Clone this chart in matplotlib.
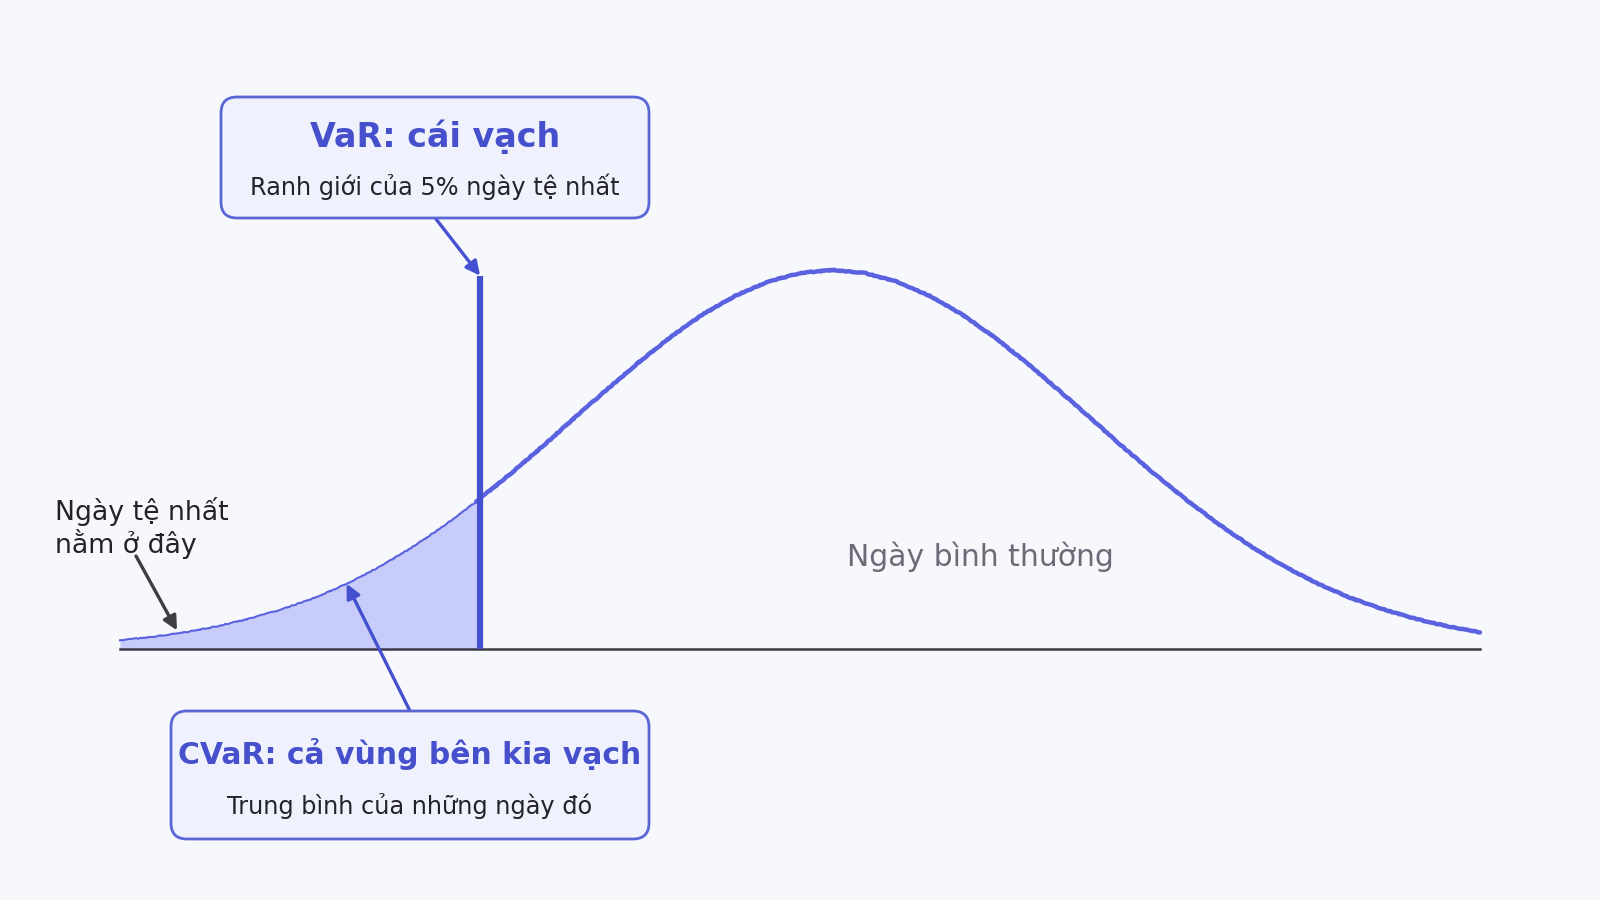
import matplotlib
matplotlib.use("Agg")
import matplotlib.pyplot as plt
from matplotlib.patches import FancyBboxPatch

# curve: x in std units, y relative to peak height
xs = [-2.75, -2.625, -2.5, -2.375, -2.25, -2.125, -2.0, -1.875, -1.75, -1.625,
      -1.5, -1.375, -1.25, -1.125, -1.0, -0.875, -0.75, -0.625, -0.5, -0.375,
      -0.25, -0.125, 0.0, 0.125, 0.25, 0.375, 0.5, 0.625, 0.75, 0.875,
      1.0, 1.125, 1.25, 1.375, 1.5, 1.625, 1.75, 1.875, 2.0, 2.125,
      2.25, 2.375, 2.5]
ys = [0.023, 0.032, 0.044, 0.060, 0.080, 0.105, 0.135, 0.172, 0.216, 0.267,
      0.325, 0.389, 0.458, 0.531, 0.607, 0.682, 0.755, 0.823, 0.883, 0.932,
      0.969, 0.992, 1.000, 0.992, 0.969, 0.932, 0.883, 0.823, 0.755, 0.682,
      0.607, 0.531, 0.458, 0.389, 0.325, 0.267, 0.216, 0.172, 0.135, 0.105,
      0.080, 0.060, 0.044]
var_idx = 11          # VaR sits at x = -1.375
var_top = 0.985

var_title = "VaR: cái vạch"
var_sub = "Ranh giới của 5% ngày tệ nhất"
cvar_title = "CVaR: cả vùng bên kia vạch"
cvar_sub = "Trung bình của những ngày đó"
tail_note = "Ngày tệ nhất\nnằm ở đây"
normal_note = "Ngày bình thường"

BG = "#f7f8fc"
CURVE = "#5a62e0"
VARC = "#4450cf"
FILL = "#c7ccfa"
BASE = "#3a3a44"
BOXFACE = "#eff1fc"
BOXEDGE = "#5b66d6"
TITLEC = "#4650cc"
DARK = "#222228"

fig = plt.figure(figsize=(16, 9), dpi=100, facecolor=BG)
ax = fig.add_axes([0, 0, 1, 1])
ax.set_facecolor(BG)
# map so that the curve spans px 120..1480 and peak sits at px 270 (baseline 649)
sx = 1360 / (xs[-1] - xs[0])
ax.set_xlim(xs[0] - 120 / sx, xs[-1] + 120 / sx)
ax.set_ylim(-(900 - 649) / 379, 649 / 379)
ax.axis("off")

# overlay in pixel units for boxes / labels
ov = fig.add_axes([0, 0, 1, 1], zorder=3)
ov.set_xlim(0, 1600)
ov.set_ylim(900, 0)
ov.axis("off")
ov.patch.set_alpha(0)

# tail fill
ax.fill_between(xs[:var_idx + 1], 0, ys[:var_idx + 1], color=FILL, lw=0, zorder=1)
tail, = ax.plot(xs[:var_idx + 1], ys[:var_idx + 1], color=CURVE, lw=1.5, zorder=2)
main, = ax.plot(xs[var_idx:], ys[var_idx:], color=CURVE, lw=3.2,
                solid_capstyle="round", zorder=2)
for ln in (tail, main):
    ln.set_sketch_params(scale=0.35, length=14, randomness=12)

ax.plot([xs[0], xs[-1]], [0, 0], color=BASE, lw=1.8, zorder=2)
ax.vlines(xs[var_idx] + 0.015, 0, var_top, color=VARC, lw=4.5, zorder=3)

# boxes
for (bx, by, bw, bh) in [(221, 97, 428, 121), (171, 711, 478, 128)]:
    ov.add_patch(FancyBboxPatch((bx, by), bw, bh,
                                boxstyle="round,pad=0,rounding_size=16",
                                fc=BOXFACE, ec=BOXEDGE, lw=2.0))

ov.text(435, 137, var_title, ha="center", va="center", fontsize=24,
        fontweight="bold", color=TITLEC)
ov.text(435, 187, var_sub, ha="center", va="center", fontsize=17.3, color=DARK)
ov.text(410, 754, cvar_title, ha="center", va="center", fontsize=21.5,
        fontweight="bold", color=TITLEC)
ov.text(410, 806, cvar_sub, ha="center", va="center", fontsize=17.3, color=DARK)
ov.text(55, 528, tail_note, ha="left", va="center", fontsize=19.3, color=DARK,
        linespacing=1.15)
ov.text(980, 557, normal_note, ha="center", va="center", fontsize=21.5,
        color="#6b6b78")

# arrows
arrow_kw = dict(arrowstyle="-|>", mutation_scale=21, shrinkA=0, shrinkB=0)
ax.annotate("", xy=(xs[var_idx] + 0.015, var_top), xytext=(436, 219),
            textcoords=ov.transData,
            arrowprops=dict(color=VARC, lw=2.4, **arrow_kw), zorder=4)
ax.annotate("", xy=(xs[7], ys[7]), xytext=(410, 711),
            textcoords=ov.transData,
            arrowprops=dict(color=VARC, lw=2.4, **arrow_kw), zorder=4)
ax.annotate("", xy=(xs[2] - 0.03, ys[2] + 0.005), xytext=(136, 556),
            textcoords=ov.transData,
            arrowprops=dict(color="#3d3d44", lw=2.4, **arrow_kw), zorder=4)

fig.savefig("out.png", dpi=100, facecolor=BG)
